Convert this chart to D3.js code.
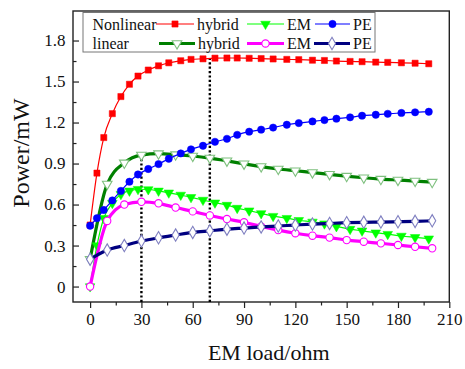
<!DOCTYPE html>
<html><head><meta charset="utf-8">
<script src="https://cdn.jsdelivr.net/npm/d3@7"></script>
<style>body{margin:0;background:#fff}svg{display:block}text{font-family:"Liberation Serif","Times New Roman",serif;fill:#111}</style>
</head><body><svg id="c" width="465" height="369"></svg>
<script>
// ---- data ----
const xNonlinear = [0,4,8,13,18,23,28,34,40,46,53,59,66,73,80,86,93,100,107,115,122,130,137,144,152,159,167,174,182,190,198];
const nlHybrid = [0.45,0.83,1.09,1.265,1.39,1.48,1.54,1.584,1.615,1.637,1.652,1.662,1.666,1.671,1.672,1.672,1.67,1.668,1.665,1.662,1.66,1.656,1.654,1.65,1.647,1.645,1.642,1.64,1.637,1.634,1.63];
const nlEM = [0,0.30,0.50,0.61,0.675,0.70,0.712,0.71,0.70,0.686,0.67,0.653,0.633,0.613,0.596,0.574,0.555,0.535,0.515,0.50,0.485,0.473,0.46,0.44,0.42,0.408,0.394,0.383,0.37,0.36,0.35];
const nlPE = [0.445,0.50,0.56,0.63,0.70,0.767,0.82,0.86,0.896,0.935,0.974,1.004,1.03,1.059,1.081,1.11,1.133,1.148,1.163,1.184,1.196,1.208,1.218,1.228,1.238,1.25,1.257,1.264,1.27,1.275,1.279];
const xLinear = [0,10,20,30,40,50,60,70,80,90,100,110,120,130,140,150,160,170,180,190,200];
const linHybrid = [0.20,0.75,0.905,0.962,0.972,0.965,0.955,0.94,0.92,0.898,0.878,0.86,0.847,0.834,0.821,0.808,0.796,0.786,0.779,0.772,0.764];
const linEM = [0,0.48,0.60,0.62,0.609,0.578,0.55,0.52,0.494,0.47,0.44,0.413,0.39,0.372,0.358,0.34,0.328,0.316,0.304,0.291,0.28];
const linPE = [0.20,0.267,0.30,0.333,0.357,0.377,0.396,0.408,0.42,0.428,0.436,0.443,0.45,0.457,0.462,0.467,0.47,0.472,0.474,0.477,0.481];
const xTicks = [0,30,60,90,120,150,180,210];
const yTicks = [0,0.3,0.6,0.9,1.2,1.5,1.8];
const dropX = [30,70];
const dropTop = [0.97,1.67];
const xTitle = "EM load/ohm";
const yTitle = "Power/mW";

// ---- chart ----
const svg = d3.select("#c");
const L=73,R=449.3,T=11,B=302;
const x = d3.scaleLinear().domain([-10,210]).range([L,R]);
const y = d3.scaleLinear().domain([-0.113,2.016]).range([B,T]);

// frame
svg.append("rect").attr("x",L).attr("y",T).attr("width",R-L).attr("height",B-T)
  .attr("fill","none").attr("stroke","#222").attr("stroke-width",1.4);

// x axis (outward ticks)
const xMinor = d3.range(15,210,30);
const gx = svg.append("g").attr("transform",`translate(0,${B})`);
gx.call(d3.axisBottom(x).tickValues(xTicks).tickSize(6).tickPadding(5).tickFormat(d3.format("d")));
gx.append("g").call(d3.axisBottom(x).tickValues(xMinor).tickSize(3.5).tickFormat(""));
gx.selectAll(".domain").remove();
gx.selectAll("line").attr("stroke","#222").attr("stroke-width",1.2);
gx.selectAll("text").style("font-size","17px").attr("fill","#111");

// y axis (inward ticks)
const yMinor = d3.range(0.15,1.95,0.3);
const gy = svg.append("g").attr("transform",`translate(${L},0)`);
gy.call(d3.axisLeft(y).tickValues(yTicks).tickSize(-6).tickPadding(7.5).tickFormat(d=>d===0?"0":d.toFixed(1)));
gy.append("g").call(d3.axisLeft(y).tickValues(yMinor).tickSize(-3.5).tickFormat(""));
gy.selectAll(".domain").remove();
gy.selectAll("line").attr("stroke","#222").attr("stroke-width",1.2);
gy.selectAll("text").style("font-size","17px").attr("fill","#111");

// titles
svg.append("text").attr("x",(x(0)+x(210))/2-1).attr("y",360).attr("text-anchor","middle")
  .style("font-size","22px").text(xTitle);
svg.append("text").attr("transform","translate(29,153) rotate(-90)").attr("text-anchor","middle")
  .style("font-size","24px").text(yTitle);

// dotted drop lines
dropX.forEach((d,i)=>{
  svg.append("line").attr("x1",x(d)).attr("x2",x(d)).attr("y1",B).attr("y2",y(dropTop[i]))
    .attr("stroke","#000").attr("stroke-width",2.4).attr("stroke-dasharray","2.2,2.2");
});

const sym = {
  square: d3.symbol().type(d3.symbolSquare).size(38),
  circle: d3.symbol().type(d3.symbolCircle).size(42),
  tri: d3.symbol().type(d3.symbolTriangle).size(40),
  diamond: d3.symbol().type(d3.symbolDiamond).size(44)
};
function series(xs, ys, o){
  const pts = xs.map((v,i)=>[x(v),y(ys[i])]);
  const g = svg.append("g");
  g.append("path").attr("d",d3.line().curve(d3.curveMonotoneX)(pts))
    .attr("fill","none").attr("stroke",o.line).attr("stroke-width",o.lw).attr("stroke-linejoin","round");
  g.selectAll("path.m").data(pts).join("path").attr("class","m")
    .attr("d",o.sym).attr("transform",d=>`translate(${d[0]},${d[1]})${o.rot?" rotate(180)":""}`)
    .attr("fill",o.fill).attr("stroke",o.stroke).attr("stroke-width",o.sw);
}
const styles = {
  linHybrid:{line:"#008000",lw:3.2,sym:sym.tri,rot:true,fill:"#fff",stroke:"#7fc07f",sw:1.1},
  nlHybrid:{line:"#ff0000",lw:1.2,sym:sym.square,fill:"#ff0000",stroke:"#ff0000",sw:0.5},
  nlEM:{line:"#00ff00",lw:1.2,sym:sym.tri,rot:true,fill:"#00ff00",stroke:"#00ff00",sw:0.5},
  linEM:{line:"#ff00ff",lw:3.2,sym:sym.circle,fill:"#fff",stroke:"#ff00ff",sw:1.1},
  linPE:{line:"#000080",lw:3.2,sym:sym.diamond,fill:"#fff",stroke:"#7f7fc0",sw:1.1},
  nlPE:{line:"#0000ff",lw:1.2,sym:sym.circle,fill:"#0000ff",stroke:"#0000ff",sw:0.5}
};
series(xLinear, linHybrid, styles.linHybrid);
series(xNonlinear, nlHybrid, styles.nlHybrid);
series(xNonlinear, nlEM, styles.nlEM);
series(xLinear, linEM, styles.linEM);
series(xLinear, linPE, styles.linPE);
series(xNonlinear, nlPE, styles.nlPE);

// legend
const lg = svg.append("g");
lg.append("rect").attr("x",83).attr("y",12.5).attr("width",292).attr("height",39.5)
  .attr("fill","#fff").attr("stroke","#777").attr("stroke-width",1);
const rows = [
  {label:"Nonlinear", y:24, items:[["hybrid",styles.nlHybrid,156,194],["EM",styles.nlEM,247,284],["PE",styles.nlPE,315,350]]},
  {label:"linear", y:43.5, items:[["hybrid",styles.linHybrid,159,195],["EM",styles.linEM,247,284],["PE",styles.linPE,314,350]]}
];
rows.forEach(r=>{
  lg.append("text").attr("x",92.5).attr("y",r.y+5.5).style("font-size","16px").text(r.label);
  r.items.forEach(([t,o,x1,x2])=>{
    lg.append("line").attr("x1",x1).attr("x2",x2).attr("y1",r.y).attr("y2",r.y)
      .attr("stroke",o.line).attr("stroke-width",o.lw===1.2?1.2:3);
    lg.append("path").attr("d",o.sym).attr("transform",`translate(${(x1+x2)/2},${r.y})${o.rot?" rotate(180)":""}`)
      .attr("fill",o.fill).attr("stroke",o.stroke).attr("stroke-width",o.sw);
    lg.append("text").attr("x",x2+3).attr("y",r.y+5.5).style("font-size","16px").text(t);
  });
});
</script></body></html>
